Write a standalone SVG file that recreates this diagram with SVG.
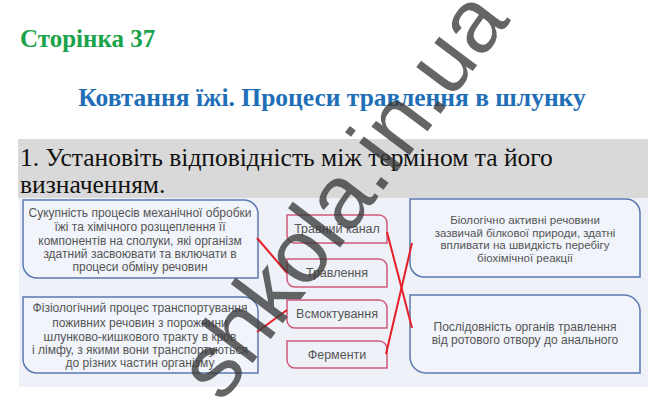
<svg xmlns="http://www.w3.org/2000/svg" width="668" height="406" viewBox="0 0 668 406">
<style>
.h1{font-family:"Liberation Serif","Times New Roman",serif;font-weight:bold;font-size:25px;fill:#1aa34a}
.h2{font-family:"Liberation Serif","Times New Roman",serif;font-weight:bold;font-size:25.5px;fill:#1f6fb8}
.q{font-family:"Liberation Serif","Times New Roman",serif;font-size:25.5px;fill:#111}
.def{fill:#f1f4fa;stroke:#5a78b0;stroke-width:1.5}
.term{fill:none;stroke:#cf5a7a;stroke-width:1.5}
.t{font-family:"Liberation Sans",Arial,sans-serif;font-size:12px;fill:#555;text-anchor:middle}
.ts{font-family:"Liberation Sans",Arial,sans-serif;font-size:11.5px;fill:#555;text-anchor:middle}
.tm{font-family:"Liberation Sans",Arial,sans-serif;font-size:12.5px;fill:#555;text-anchor:middle}
.link{stroke:#e61e28;stroke-width:2;fill:none}
.wm{font-family:"Liberation Sans",Arial,sans-serif;font-size:90px;fill:#3a3a3a;fill-opacity:0.78}
</style>
<rect width="668" height="406" fill="#fff"/>
<text class="h1" x="20" y="47">Сторінка 37</text>
<text class="h2" x="332" y="106" text-anchor="middle">Ковтання їжі. Процеси травлення в шлунку</text>
<rect x="18" y="139" width="630" height="59" fill="#d9d9d9"/>
<text class="q" x="20" y="166">1. Установіть відповідність між терміном та його</text>
<text class="q" x="20" y="193">визначенням.</text>
<rect x="19" y="198" width="629" height="189" fill="#eef1f7"/>

<g id="def1">
<path class="def" d="M23,200 H244 A14,14 0 0 1 258,214 V278 H37 A14,14 0 0 1 23,264 Z"/>
<text class="t" x="140" y="217">Сукупність процесів механічної обробки</text>
<text class="t" x="140" y="231">їжі та хімічного розщеплення її</text>
<text class="t" x="140" y="245">компонентів на сполуки, які організм</text>
<text class="t" x="140" y="258">здатний засвоювати та включати в</text>
<text class="t" x="140" y="271">процеси обміну речовин</text>
</g>
<g id="def2">
<path class="def" d="M23,297 H244 A14,14 0 0 1 258,311 V373 H37 A14,14 0 0 1 23,359 Z"/>
<text class="t" x="140" y="312">Фізіологічний процес транспортування</text>
<text class="t" x="140" y="327">поживних речовин з порожнини</text>
<text class="t" x="140" y="341">шлунково-кишкового тракту в кров</text>
<text class="t" x="140" y="354">і лімфу, з якими вони транспортуються</text>
<text class="t" x="140" y="367">до різних частин організму</text>
</g>
<g id="def3">
<path class="def" d="M410,199 H626 A14,14 0 0 1 640,213 V277 H424 A14,14 0 0 1 410,263 Z"/>
<text class="ts" x="525" y="224">Біологічно активні речовини</text>
<text class="ts" x="525" y="236.5">зазвичай білкової природи, здатні</text>
<text class="ts" x="525" y="249">впливати на швидкість перебігу</text>
<text class="ts" x="525" y="261.5">біохімічної реакції</text>
</g>
<g id="def4">
<path class="def" d="M410,295 H624 A16,16 0 0 1 640,311 V373 H426 A16,16 0 0 1 410,357 Z"/>
<text class="t" x="525" y="331">Послідовність органів травлення</text>
<text class="t" x="525" y="344">від ротового отвору до анального</text>
</g>

<g id="term1">
<path class="term" d="M287,215 H379 A8,8 0 0 1 387,223 V243 H295 A8,8 0 0 1 287,235 Z"/>
<text class="tm" x="337" y="233">Травний канал</text>
</g>
<g id="term2">
<path class="term" d="M287,259 H379 A8,8 0 0 1 387,267 V287 H295 A8,8 0 0 1 287,279 Z"/>
<text class="tm" x="337" y="277">Травлення</text>
</g>
<g id="term3">
<path class="term" d="M287,300 H379 A8,8 0 0 1 387,308 V328 H295 A8,8 0 0 1 287,320 Z"/>
<text class="tm" x="337" y="318">Всмоктування</text>
</g>
<g id="term4">
<path class="term" d="M287,341 H379 A8,8 0 0 1 387,349 V368 H295 A8,8 0 0 1 287,360 Z"/>
<text class="tm" x="337" y="359">Ферменти</text>
</g>

<g id="connectors">
<line class="link" x1="257" y1="238" x2="287" y2="273"/>
<line class="link" x1="257" y1="332" x2="287" y2="310"/>
<line class="link" x1="387" y1="232" x2="412" y2="328"/>
<line class="link" x1="386" y1="354" x2="412" y2="243"/>
</g>

<g id="watermark">
<text class="wm" transform="translate(222,404) rotate(-53)">shkola.in.ua</text>
</g>
</svg>
